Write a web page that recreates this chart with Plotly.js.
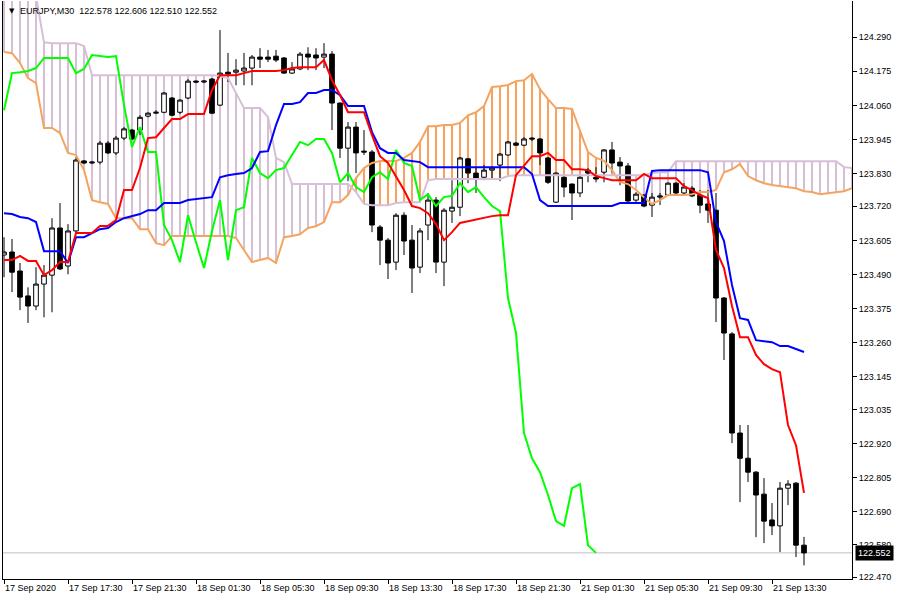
<!DOCTYPE html>
<html>
<head>
<meta charset="utf-8">
<script src="https://cdn.plot.ly/plotly-3.0.1.min.js"></script>
<style>
html,body{margin:0;padding:0;background:#fff;}
#chart{width:900px;height:600px;}
</style>
</head>
<body>
<div id="chart"></div>
<script>
// ---------- DATA (EURJPY, M30) ----------
const symbol = 'EURJPY';
const timeframe = 'M30';
const timeLabels = ['17 Sep 2020','17 Sep 17:30','17 Sep 21:30','18 Sep 01:30','18 Sep 05:30','18 Sep 09:30','18 Sep 13:30','18 Sep 17:30','18 Sep 21:30','21 Sep 01:30','21 Sep 05:30','21 Sep 09:30','21 Sep 13:30'];
const priceLabels = ['124.290','124.175','124.060','123.945','123.830','123.720','123.605','123.490','123.375','123.260','123.145','123.035','122.920','122.805','122.690','122.580','122.470'];

const open = [
123.556,123.566,123.502,123.418,123.384,123.458,123.488,123.647,123.519,123.637,
123.873,123.866,123.869,123.933,123.900,123.950,123.977,123.977,124.024,124.034,
124.037,124.085,124.037,124.085,124.142,124.139,124.149,124.061,124.172,124.172,
124.176,124.186,124.223,124.223,124.226,124.220,124.169,124.183,124.233,124.230,
124.223,124.233,124.068,123.916,123.987,123.906,123.903,123.650,123.606,123.532,
123.690,123.606,123.515,123.657,123.741,123.532,123.704,123.717,123.880,123.832,
123.818,123.842,123.859,123.893,123.933,123.926,123.950,123.947,123.883,123.734,
123.818,123.795,123.765,123.842,123.818,123.835,123.910,123.869,123.856,123.741,
123.758,123.724,123.751,123.758,123.798,123.765,123.781,123.758,123.728,123.707,
123.411,123.290,122.956,122.871,122.824,122.750,122.663,122.643,122.770,122.787,
122.578];
const high = [
123.616,123.610,123.529,123.447,123.515,123.522,123.680,123.731,123.660,123.886,
123.876,123.873,123.940,123.940,123.957,123.987,123.981,124.027,124.037,124.044,
124.105,124.088,124.081,124.149,124.145,124.145,124.152,124.314,124.237,124.216,
124.237,124.230,124.253,124.247,124.247,124.223,124.206,124.240,124.256,124.253,
124.270,124.243,124.070,124.004,124.004,123.977,123.910,123.657,123.613,123.697,
123.700,123.657,123.647,123.765,123.751,123.714,123.808,123.886,123.883,123.852,
123.859,123.855,123.900,123.940,123.937,123.953,123.953,123.950,123.886,123.835,
123.822,123.797,123.822,123.849,123.852,123.913,123.937,123.886,123.866,123.768,
123.761,123.765,123.765,123.801,123.801,123.798,123.788,123.775,123.775,123.765,
123.414,123.296,122.983,122.983,122.828,122.804,122.720,122.791,122.797,122.791,
122.606];
const low = [
123.481,123.431,123.370,123.327,123.370,123.346,123.363,123.505,123.491,123.630,
123.862,123.862,123.862,123.896,123.893,123.943,123.943,123.960,124.020,124.031,
124.034,124.024,124.031,124.081,124.135,124.135,124.031,124.058,124.139,124.128,
124.128,124.128,124.186,124.206,124.206,124.166,124.166,124.179,124.179,124.179,
124.186,123.977,123.883,123.805,123.832,123.893,123.633,123.522,123.475,123.505,
123.556,123.428,123.495,123.606,123.495,123.451,123.664,123.687,123.798,123.765,
123.808,123.815,123.805,123.890,123.923,123.923,123.940,123.859,123.795,123.731,
123.751,123.674,123.751,123.801,123.801,123.801,123.835,123.791,123.734,123.734,
123.717,123.684,123.724,123.755,123.758,123.755,123.751,123.697,123.664,123.330,
123.202,122.922,122.723,122.791,122.605,122.585,122.612,122.555,122.713,122.538,
122.510];
const close = [
123.566,123.498,123.414,123.384,123.458,123.488,123.647,123.509,123.637,123.876,
123.866,123.869,123.933,123.900,123.950,123.981,123.947,124.020,124.034,124.037,
124.102,124.027,124.078,124.142,124.139,124.142,124.034,124.169,124.166,124.179,
124.186,124.223,124.216,124.216,124.213,124.169,124.183,124.233,124.223,124.220,
124.233,124.068,123.916,123.987,123.900,123.903,123.657,123.606,123.529,123.690,
123.603,123.512,123.637,123.741,123.532,123.707,123.717,123.883,123.832,123.815,
123.842,123.849,123.896,123.937,123.926,123.947,123.947,123.900,123.801,123.832,
123.785,123.765,123.818,123.832,123.812,123.910,123.866,123.856,123.738,123.761,
123.721,123.751,123.755,123.798,123.765,123.785,123.755,123.724,123.707,123.411,
123.293,122.956,122.871,122.824,122.747,122.659,122.643,122.770,122.784,122.578,
122.552];

const tenkan = [
123.539,123.539,123.553,123.536,123.536,123.488,123.505,123.532,123.532,123.630,
123.630,123.630,123.654,123.654,123.674,123.775,123.775,123.849,123.950,123.953,
123.984,124.014,124.014,124.031,124.031,124.031,124.112,124.162,124.162,124.162,
124.169,124.176,124.176,124.176,124.176,124.179,124.186,124.189,124.189,124.189,
124.213,124.145,124.095,124.037,124.037,124.037,123.960,123.889,123.866,123.822,
123.775,123.721,123.714,123.697,123.660,123.606,123.633,123.664,123.670,123.674,
123.680,123.687,123.690,123.690,123.825,123.856,123.889,123.889,123.900,123.876,
123.876,123.845,123.845,123.842,123.822,123.815,123.808,123.808,123.808,123.808,
123.829,123.815,123.815,123.815,123.815,123.788,123.775,123.758,123.748,123.573,
123.512,123.384,123.279,123.279,123.219,123.188,123.171,123.161,122.983,122.915,
122.754];
const kijun = [
123.697,123.694,123.684,123.680,123.667,123.569,123.569,123.569,123.529,123.616,
123.616,123.630,123.643,123.647,123.667,123.680,123.687,123.694,123.707,123.707,
123.731,123.731,123.731,123.741,123.744,123.748,123.751,123.818,123.825,123.829,
123.832,123.849,123.903,123.906,123.994,124.065,124.065,124.071,124.102,124.102,
124.112,124.112,124.095,124.058,124.058,124.058,123.970,123.916,123.900,123.900,
123.876,123.873,123.869,123.852,123.852,123.852,123.852,123.852,123.852,123.852,
123.852,123.852,123.852,123.852,123.852,123.852,123.829,123.741,123.721,123.721,
123.721,123.721,123.721,123.721,123.721,123.721,123.721,123.731,123.731,123.731,
123.731,123.839,123.842,123.842,123.842,123.842,123.842,123.842,123.835,123.667,
123.603,123.455,123.343,123.337,123.269,123.266,123.262,123.249,123.249,123.239,
123.229];
const spanA = [
124.240,124.236,124.203,124.152,124.135,123.984,123.984,123.967,123.900,123.893,
123.842,123.741,123.734,123.728,123.680,123.680,123.680,123.643,123.643,123.596,
123.589,123.620,123.620,123.620,123.620,123.620,123.620,123.620,123.620,123.613,
123.573,123.532,123.539,123.546,123.529,123.616,123.620,123.626,123.647,123.653,
123.667,123.734,123.734,123.758,123.815,123.849,123.866,123.873,123.873,123.873,
123.883,123.900,123.937,123.990,123.990,123.994,123.994,124.001,124.027,124.037,
124.058,124.122,124.125,124.129,124.142,124.145,124.166,124.115,124.081,124.051,
124.051,124.048,123.974,123.903,123.883,123.873,123.842,123.802,123.795,123.775,
123.751,123.728,123.741,123.758,123.758,123.758,123.761,123.768,123.768,123.775,
123.835,123.845,123.862,123.822,123.808,123.798,123.792,123.788,123.785,123.781,
123.771,123.768,123.761,123.765,123.768,123.771,123.781];
const spanB = [
124.466,124.466,124.466,124.466,124.428,124.273,124.270,124.270,124.270,124.270,
124.260,124.162,124.162,124.162,124.162,124.162,124.162,124.162,124.162,124.162,
124.162,124.162,124.162,124.162,124.162,124.162,124.162,124.159,124.152,124.102,
124.051,124.051,124.051,124.021,123.883,123.869,123.795,123.795,123.795,123.795,
123.795,123.795,123.795,123.795,123.768,123.728,123.724,123.724,123.724,123.731,
123.734,123.734,123.734,123.808,123.812,123.812,123.812,123.812,123.812,123.812,
123.812,123.812,123.812,123.822,123.825,123.825,123.825,123.825,123.825,123.825,
123.825,123.825,123.825,123.825,123.825,123.825,123.825,123.825,123.825,123.825,
123.825,123.832,123.835,123.835,123.872,123.872,123.872,123.872,123.872,123.872,
123.872,123.872,123.872,123.872,123.872,123.872,123.872,123.872,123.872,123.872,
123.872,123.872,123.872,123.872,123.872,123.852,123.849];
const chikou = [
124.044,124.169,124.172,124.176,124.186,124.220,124.220,124.220,124.220,124.169,
124.183,124.230,124.226,124.223,124.226,124.061,123.920,123.987,123.903,123.903,
123.657,123.606,123.532,123.690,123.599,123.512,123.637,123.741,123.539,123.707,
123.717,123.883,123.832,123.815,123.842,123.849,123.893,123.937,123.926,123.947,
123.947,123.900,123.801,123.832,123.785,123.768,123.818,123.835,123.812,123.910,
123.866,123.856,123.741,123.761,123.721,123.751,123.755,123.798,123.768,123.785,
123.751,123.721,123.704,123.411,123.293,122.956,122.871,122.824,122.747,122.659,
122.643,122.770,122.784,122.578,122.552];

// ---------- BUILD ----------
const idx = a => a.map((_, i) => i);
const barsPerLabel = 8;
const last = close.length - 1;

const cloudBase = spanA.map((a, i) => Math.min(a, spanB[i]));
const cloudH = spanA.map((a, i) => Math.abs(a - spanB[i]));
const cloudCol = spanA.map((a, i) => a >= spanB[i] ? '#F4A460' : '#D8BFD8');

const traces = [
  {type:'bar', x: idx(spanA), base: cloudBase, y: cloudH, width: 0.26,
   marker:{color: cloudCol, line:{width:0}}, hoverinfo:'skip'},
  {type:'scatter', mode:'lines', x: idx(spanA), y: spanA, line:{color:'#F4A460', width:2}, hoverinfo:'skip'},
  {type:'scatter', mode:'lines', x: idx(spanB), y: spanB, line:{color:'#D8BFD8', width:2}, hoverinfo:'skip'},
  {type:'candlestick', x: idx(close), open: open, high: high, low: low, close: close,
   whiskerwidth: 0,
   increasing:{line:{color:'#000000', width:1}, fillcolor:'#FFFFFF'},
   decreasing:{line:{color:'#000000', width:1}, fillcolor:'#000000'},
   hoverinfo:'skip'},
  {type:'scatter', mode:'lines', x: idx(chikou), y: chikou, line:{color:'#00FF00', width:2}, hoverinfo:'skip'},
  {type:'scatter', mode:'lines', x: idx(kijun), y: kijun, line:{color:'#0000FF', width:2}, hoverinfo:'skip'},
  {type:'scatter', mode:'lines', x: idx(tenkan), y: tenkan, line:{color:'#FF0000', width:2}, hoverinfo:'skip'}
];

const tickFont = {family:'Liberation Sans, Arial, sans-serif', size:9, color:'#000000'};

const layout = {
  width: 900, height: 600,
  margin: {l:3, r:48, t:1, b:21, pad:0},
  paper_bgcolor:'#FFFFFF', plot_bgcolor:'#FFFFFF',
  showlegend:false, hovermode:false,
  boxgap: 0.42, boxgroupgap: 0,
  xaxis: {
    range: [-0.125, 106], showgrid:false, zeroline:false,
    showline:true, linecolor:'#000000', linewidth:1,
    ticks:'outside', ticklen:4, tickcolor:'#000000', tickwidth:1,
    tickvals: timeLabels.map((_, i) => i * barsPerLabel),
    ticktext: timeLabels,
    ticklabelposition:'outside right',
    tickfont: tickFont,
    rangeslider:{visible:false}, fixedrange:true
  },
  yaxis: {
    side:'right', range:[122.464, 124.412], showgrid:false, zeroline:false,
    showline:true, mirror:true, linecolor:'#000000', linewidth:1,
    ticks:'outside', ticklen:4, tickcolor:'#000000', tickwidth:1,
    tickvals: priceLabels.map(Number), ticktext: priceLabels,
    tickfont: tickFont, fixedrange:true
  },
  shapes: [
    {type:'line', xref:'paper', x0:0, x1:1, yref:'y', y0:close[last], y1:close[last],
     line:{color:'#C0C0C0', width:1}, layer:'below'}
  ],
  annotations: [
    {xref:'paper', yref:'paper', x:0, y:1, xanchor:'left', yanchor:'middle', xshift:4, yshift:-10,
     text:'\u25BC', showarrow:false, font:{family:'DejaVu Sans, sans-serif', size:7, color:'#000000'}},
    {xref:'paper', yref:'paper', x:0, y:1, xanchor:'left', yanchor:'middle', xshift:15, yshift:-10,
     text: symbol + ',' + timeframe + '  ' + [open[last], high[last], low[last], close[last]].map(v => v.toFixed(3)).join(' '),
     showarrow:false, font:{family:'Liberation Sans, Arial, sans-serif', size:9, color:'#000000'}},
    {xref:'paper', yref:'y', x:1, y:close[last], xanchor:'left', yanchor:'middle', xshift:3,
     text: close[last].toFixed(3), showarrow:false, bgcolor:'#000000', borderpad:2,
     font:{family:'Liberation Sans, Arial, sans-serif', size:9, color:'#FFFFFF'}}
  ]
};

Plotly.newPlot('chart', traces, layout, {staticPlot:true, displayModeBar:false});
</script>
</body>
</html>
